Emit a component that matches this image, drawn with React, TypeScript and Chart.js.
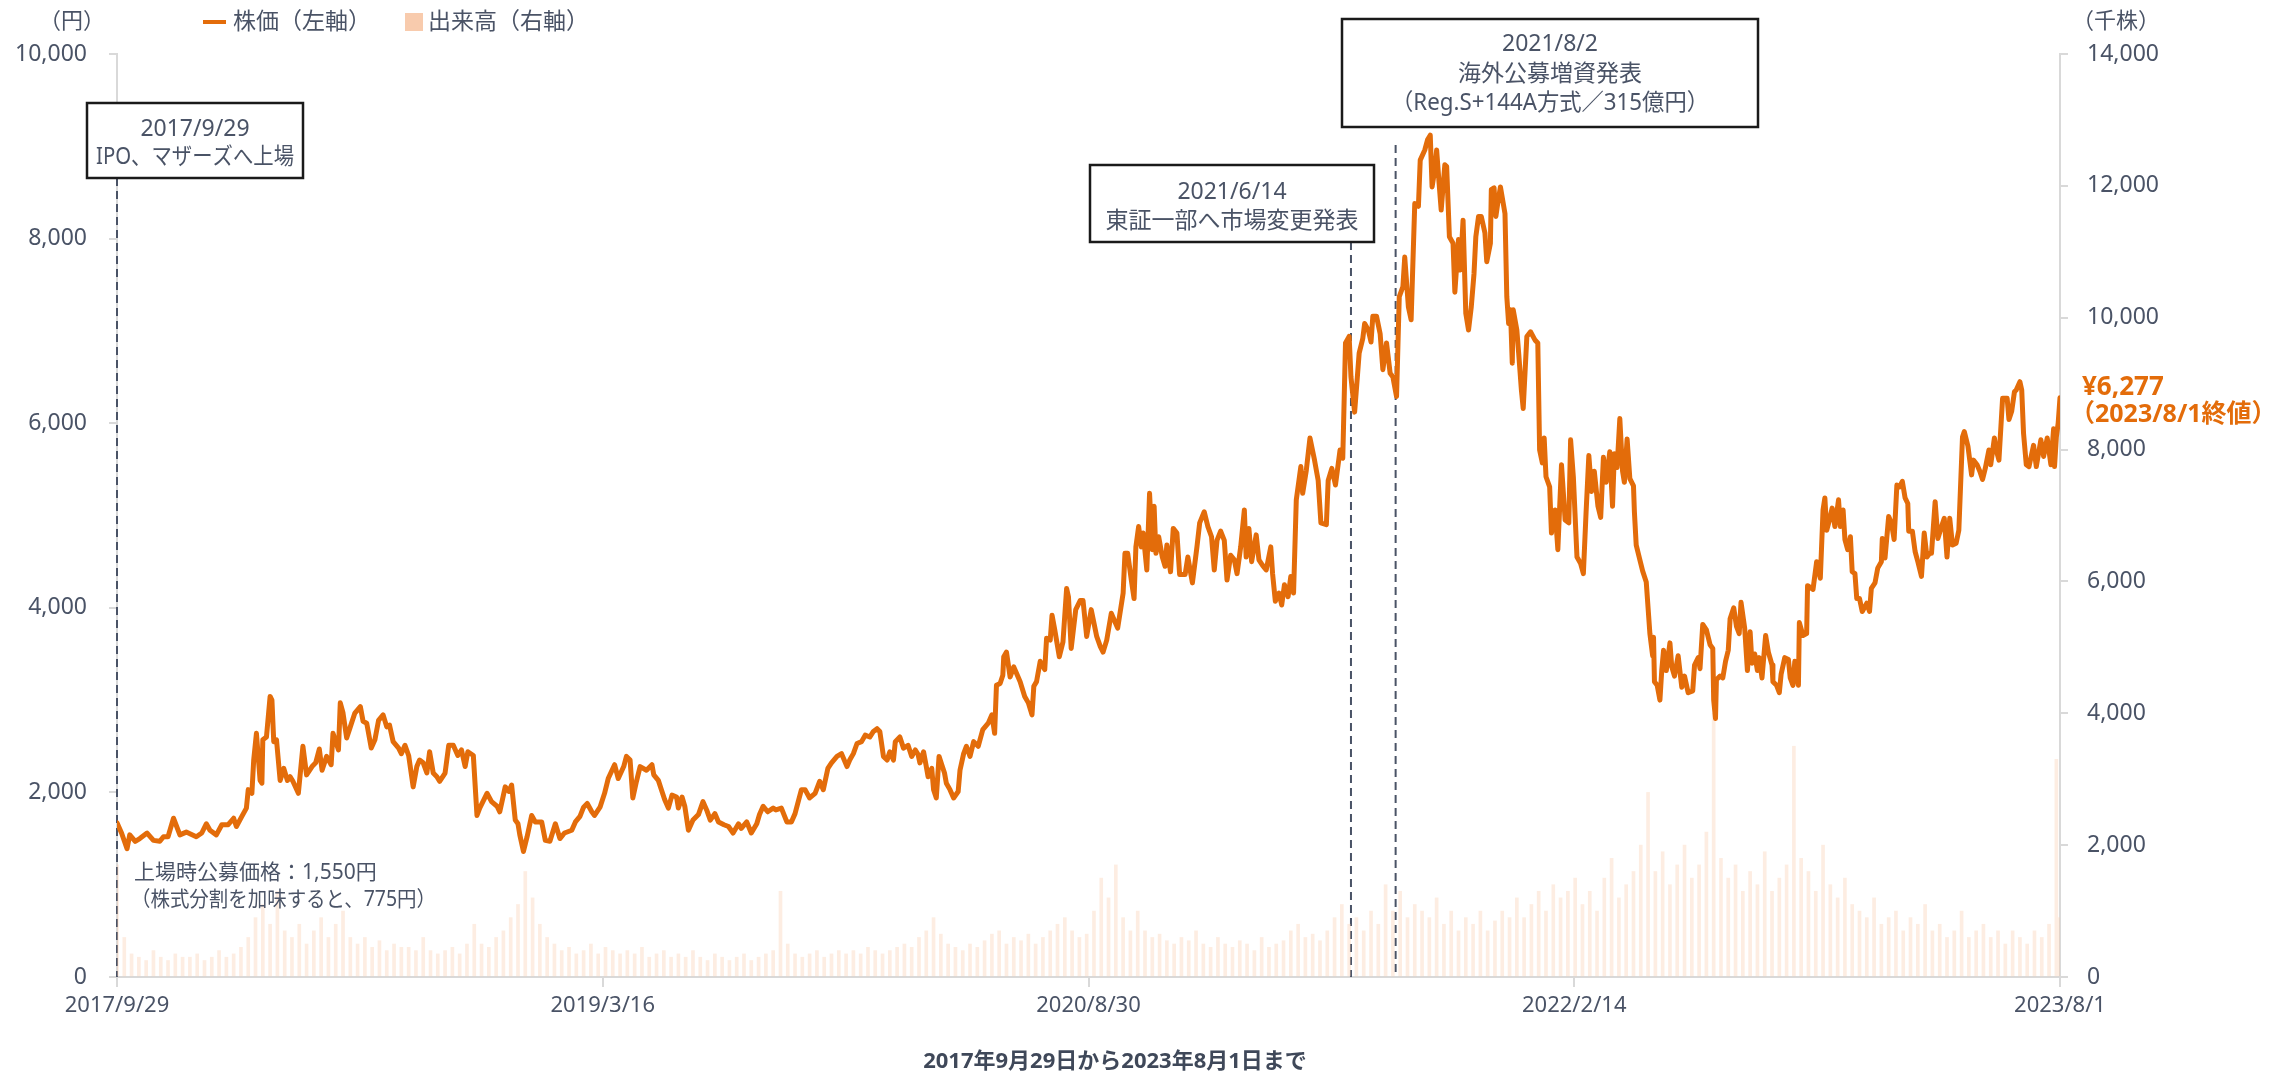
import React, { useEffect, useRef } from 'react';
import { Chart, registerables } from 'chart.js';

Chart.register(...registerables);

// x axis: days elapsed since 2017/9/29
const tickDays = [0, 533, 1066, 1599, 2132];
const tickLabels = ['2017/9/29', '2019/3/16', '2020/8/30', '2022/2/14', '2023/8/1'];

const priceDays = [
  0, 5, 11, 14, 20, 25, 33, 40, 47, 51, 56, 62, 69, 76, 87, 93, 98, 102, 109, 115, 122, 128, 131, 137, 142, 144, 148, 150, 153, 157, 159, 160, 164, 168, 170, 172, 175, 179, 183, 187, 190, 193, 199, 204, 208, 214, 218, 222, 225, 230, 235, 237, 243, 245, 248, 252, 256, 261,
  267, 270, 274, 279, 283, 287, 292, 296, 299, 303, 309, 312, 316, 320, 325, 329, 332, 336, 340, 343, 347, 351, 354, 360, 364, 369, 374, 378, 382, 385, 391, 395, 398, 406, 411, 417, 420, 426, 430, 433, 437, 440, 442, 446, 450, 455, 459, 466, 470, 475, 481, 486, 491, 499, 503, 508, 512, 516, 521, 524, 530, 535, 539, 546, 550,
  556, 559, 563, 566, 570, 574, 581, 587, 589, 594, 597, 601, 605, 609, 614, 616, 620, 623, 627, 632, 638, 643, 647, 651, 656, 660, 666, 671, 676, 682, 685, 691, 696, 702, 705, 709, 714, 720, 723, 729, 735, 740, 744, 748, 751, 755, 760, 766, 771, 775, 780, 784, 790, 795, 801, 804, 808, 812, 817,
  821, 826, 830, 834, 837, 841, 845, 848, 852, 854, 859, 863, 868, 872, 876, 879, 881, 885, 888, 890, 894, 896, 899, 902, 905, 908, 910, 914, 918, 923, 925, 929, 932, 936, 940, 945, 950, 956, 960, 963, 965, 969, 972, 973, 976, 980, 984, 987, 991, 996, 1000, 1004, 1006, 1009, 1013, 1018, 1020, 1024, 1026, 1029, 1034, 1038, 1042, 1044, 1047, 1052, 1057, 1060, 1064, 1069, 1075,
  1079, 1082, 1086, 1091, 1095, 1098, 1104, 1106, 1109, 1113, 1116, 1118, 1121, 1124, 1126, 1130, 1133, 1136, 1138, 1140, 1143, 1147, 1150, 1152, 1156, 1159, 1163, 1166, 1172, 1175, 1180, 1185, 1188, 1193, 1197, 1201, 1204, 1207, 1211, 1215, 1218, 1222, 1226, 1229, 1233, 1237, 1239, 1242, 1245, 1250, 1253, 1257, 1261, 1266, 1268, 1271, 1275, 1278, 1281, 1285, 1288, 1291, 1294, 1299, 1301, 1305, 1309, 1314, 1318, 1321, 1327, 1329, 1333, 1337, 1342, 1345,
  1348, 1352, 1354, 1358, 1361, 1363, 1367, 1369, 1373, 1376, 1378, 1382, 1386, 1389, 1393, 1397, 1400, 1404, 1407, 1411, 1413, 1417, 1420, 1424, 1428, 1430, 1435, 1438, 1441, 1443, 1446, 1448, 1451, 1453, 1457, 1459, 1462, 1466, 1468, 1472, 1474, 1477, 1480, 1483, 1486, 1489, 1491, 1494, 1497, 1501, 1503, 1507, 1508, 1511, 1513, 1515, 1518, 1523, 1525, 1527, 1529, 1531, 1532, 1536, 1538, 1541, 1543, 1547, 1551, 1556, 1559, 1561, 1564, 1566, 1568, 1572, 1574, 1578, 1581, 1585, 1589, 1593, 1595, 1598, 1602, 1606,
  1609, 1612, 1615, 1618, 1621, 1625, 1628, 1631, 1634, 1638, 1641, 1643, 1646, 1649, 1652, 1654, 1657, 1660, 1664, 1665, 1667, 1671, 1674, 1678, 1682, 1685, 1686, 1687, 1690, 1693, 1695, 1697, 1700, 1704, 1706, 1709, 1713, 1717, 1720, 1724, 1729, 1731, 1735, 1737, 1740, 1744, 1748, 1751, 1752, 1754, 1755, 1759, 1762, 1765, 1768, 1770, 1774, 1777, 1780, 1782, 1786, 1789, 1792, 1794, 1797, 1800, 1802, 1805, 1809, 1812, 1816, 1817, 1821, 1824, 1826, 1830, 1834, 1836, 1839, 1841, 1845, 1846, 1850, 1854, 1855, 1861, 1865,
  1869, 1872, 1874, 1876, 1879, 1882, 1885, 1889, 1891, 1894, 1896, 1899, 1902, 1904, 1907, 1909, 1912, 1915, 1920, 1923, 1925, 1929, 1932, 1936, 1937, 1940, 1944, 1947, 1950, 1953, 1956, 1959, 1962, 1965, 1966, 1970, 1973, 1976, 1980, 1983, 1986, 1989, 1991, 1995, 1998, 2002, 2005, 2008, 2011, 2014, 2018, 2021, 2025, 2027, 2031, 2035, 2037, 2041, 2044, 2047, 2050, 2054, 2056, 2060, 2062, 2065, 2069, 2074, 2076, 2079, 2082, 2084, 2088, 2090, 2092, 2095, 2098, 2103, 2106, 2111, 2114, 2118, 2122, 2125, 2126, 2128, 2130, 2132,
];

const priceValues = [
  1670, 1560, 1390, 1540, 1470, 1500, 1560, 1480, 1470, 1520, 1520, 1720, 1540, 1570, 1520, 1560, 1660, 1590, 1540, 1650, 1650, 1720, 1630, 1740, 1830, 2030, 1990, 2350, 2640, 2130, 2100, 2570, 2600, 3040, 3000, 2550, 2570, 2130, 2260, 2130, 2170, 2120, 1990, 2500, 2190, 2280, 2320, 2470, 2240, 2390, 2300, 2640, 2460, 2970, 2860, 2590, 2710, 2860,
  2930, 2770, 2750, 2480, 2570, 2780, 2840, 2710, 2730, 2550, 2480, 2420, 2510, 2400, 2060, 2280, 2350, 2320, 2210, 2440, 2210, 2170, 2120, 2210, 2510, 2510, 2400, 2460, 2280, 2440, 2400, 1750, 1830, 1990, 1900, 1850, 1790, 2060, 2010, 2080, 1700, 1660, 1540, 1360, 1520, 1750, 1680, 1680, 1480, 1470, 1660, 1500, 1560, 1590, 1680, 1740, 1840, 1880, 1790, 1750, 1840, 1990, 2150, 2300, 2150,
  2280, 2390, 2350, 1940, 2120, 2280, 2240, 2300, 2190, 2130, 2040, 1920, 1830, 1970, 1950, 1830, 1950, 1850, 1590, 1700, 1760, 1900, 1810, 1700, 1770, 1680, 1650, 1630, 1560, 1660, 1610, 1680, 1560, 1660, 1760, 1850, 1790, 1830, 1810, 1830, 1680, 1680, 1770, 1920, 2030, 2030, 1940, 1990, 2120, 2030, 2260, 2320, 2390, 2420, 2280, 2350, 2420, 2530, 2550,
  2620, 2600, 2660, 2690, 2660, 2390, 2350, 2440, 2350, 2550, 2600, 2480, 2510, 2390, 2460, 2410, 2320, 2440, 2280, 2170, 2260, 2030, 1940, 2390, 2300, 2210, 2100, 2030, 1940, 2010, 2240, 2420, 2500, 2390, 2550, 2500, 2680, 2750, 2840, 2640, 3160, 3180, 3270, 3470, 3520, 3250, 3360, 3290, 3200, 3040, 2970, 2840, 3150, 3200, 3420, 3330, 3670, 3650, 3920, 3760, 3470, 3630, 4210, 4120, 3560, 3980, 4080, 4080, 3690, 3980, 3690,
  3580, 3520, 3650, 3940, 3850, 3780, 4160, 4590, 4590, 4300, 4100, 4660, 4880, 4660, 4810, 4410, 5240, 4630, 5100, 4590, 4770, 4550, 4450, 4680, 4390, 4860, 4810, 4360, 4360, 4550, 4270, 4660, 4920, 5040, 4880, 4770, 4410, 4730, 4830, 4730, 4300, 4570, 4520, 4370, 4660, 5060, 4550, 4860, 4500, 4790, 4520, 4460, 4410, 4660, 4370, 4070, 4160, 4030, 4250, 4120, 4340, 4160, 5170, 5530, 5240, 5490, 5840, 5600, 5380, 4920, 4900, 5380, 5510, 5330, 5710, 5620,
  6870, 6940, 6500, 6120, 6500, 6760, 6920, 7080, 7010, 6880, 7160, 7160, 6970, 6580, 6870, 6540, 6500, 6290, 7370, 7480, 7800, 7260, 7120, 8380, 8350, 8850, 8960, 9070, 9120, 8560, 8750, 8960, 8560, 8310, 8800, 8780, 8020, 7950, 7420, 7990, 7660, 8200, 7190, 7010, 7260, 7620, 8020, 8240, 8240, 8060, 7750, 7950, 8530, 8550, 8240, 8380, 8560, 8270, 7370, 7080, 7230, 6650, 7230, 7010, 6760, 6360, 6160, 6940, 6990, 6900, 6870, 5710, 5570, 5840, 5420, 5310, 4810, 5060, 4630, 5550, 4950, 4920, 5820, 5420, 4550, 4480,
  4370, 5040, 5650, 5260, 5480, 5100, 4980, 5630, 5360, 5690, 5100, 5670, 5520, 6050, 5480, 5360, 5830, 5400, 5320, 5040, 4680, 4520, 4400, 4280, 3720, 3480, 3680, 3200, 3160, 3000, 3320, 3540, 3320, 3620, 3360, 3260, 3480, 3140, 3260, 3080, 3100, 3380, 3460, 3340, 3820, 3760, 3600, 3560, 3000, 2800, 3220, 3260, 3240, 3420, 3540, 3880, 4000, 3800, 3720, 4060, 3780, 3320, 3740, 3400, 3500, 3320, 3460, 3240, 3700, 3520, 3380, 3200, 3160, 3080, 3280, 3460, 3440, 3240, 3160, 3420, 3160, 3840, 3700, 3720, 4240, 4200, 4500,
  4320, 5060, 5190, 4840, 4950, 5080, 4880, 5170, 4880, 5060, 4740, 4630, 4770, 4390, 4370, 4100, 4100, 3960, 4050, 3960, 4210, 4270, 4430, 4500, 4750, 4540, 4990, 4920, 4740, 5330, 5310, 5370, 5190, 5130, 4830, 4830, 4610, 4500, 4340, 4810, 4550, 4590, 4590, 5150, 4750, 4880, 4970, 4550, 4970, 4680, 4700, 4840, 5850, 5910, 5750, 5440, 5600, 5550, 5480, 5390, 5510, 5710, 5550, 5840, 5710, 5600, 6270, 6270, 6040, 6130, 6340, 6360, 6450, 6360, 5890, 5550, 5530, 5760, 5530, 5820, 5640, 5840, 5550, 5940, 5530, 5850, 6000, 6277,
];

// volume (thousand shares), sampled every 8 days from 2017/9/29
const volumeStart = 0;
const volumeStep = 8;
const volumeValues = [
  1700, 600, 350, 300, 250, 400, 300, 250, 350, 300,
  300, 350, 250, 300, 400, 300, 350, 450, 600, 900,
  1100, 800, 1300, 700, 600, 800, 500, 700, 900, 600,
  800, 1000, 600, 500, 600, 450, 550, 400, 500, 450,
  450, 400, 600, 400, 350, 400, 450, 350, 500, 800,
  500, 450, 600, 700, 900, 1100, 1600, 1200, 800, 600,
  500, 400, 450, 350, 400, 500, 350, 450, 400, 350,
  400, 350, 450, 300, 350, 400, 300, 350, 300, 400,
  300, 250, 350, 300, 250, 300, 350, 250, 300, 350,
  400, 1300, 500, 350, 300, 350, 400, 300, 350, 400,
  350, 400, 350, 450, 400, 350, 400, 450, 500, 450,
  600, 700, 900, 650, 500, 450, 400, 500, 450, 550,
  650, 700, 500, 600, 550, 650, 500, 600, 700, 800,
  900, 700, 600, 650, 1000, 1500, 1200, 1700, 900, 700,
  1000, 700, 600, 650, 550, 500, 600, 550, 700, 500,
  450, 600, 500, 450, 550, 500, 400, 600, 450, 500,
  550, 700, 800, 600, 650, 550, 700, 900, 1100, 800,
  900, 700, 1000, 800, 1400, 1000, 1300, 900, 1100, 1000,
  900, 1200, 800, 1000, 700, 900, 800, 1000, 700, 850,
  1000, 900, 1200, 900, 1100, 1300, 1000, 1400, 1200, 1300,
  1500, 1100, 1300, 1000, 1500, 1800, 1200, 1400, 1600, 2000,
  2800, 1600, 1900, 1400, 1700, 2000, 1500, 1700, 2200, 4000,
  1800, 1500, 1700, 1300, 1600, 1400, 1900, 1300, 1500, 1700,
  3500, 1800, 1600, 1300, 2000, 1400, 1200, 1500, 1100, 1000,
  900, 1200, 800, 900, 1000, 700, 900, 800, 1100, 700,
  800, 600, 700, 1000, 600, 700, 800, 600, 700, 500,
  700, 600, 500, 700, 600, 800, 3300,
];
const volumeLastDay = 2132;
const volumeLastValue = 900;

const eventDays = [0, 1354, 1403];
const eventLineTops = [178, 242, 145];

const TEXT = '#4a5366';
const ORANGE = '#e36c0a';
const FONT = "'Noto Sans', 'Noto Sans CJK JP', sans-serif";

const overlay = {
  id: 'overlay',
  beforeDatasetsDraw(chart: any) {
    const { ctx, chartArea } = chart;
    const xs = chart.scales.x;
    ctx.save();
    ctx.setLineDash([8, 5]);
    ctx.strokeStyle = TEXT;
    ctx.lineWidth = 2;
    eventDays.forEach((d, i) => {
      const px = xs.getPixelForValue(d);
      ctx.beginPath();
      ctx.moveTo(px, eventLineTops[i]);
      ctx.lineTo(px, chartArea.bottom);
      ctx.stroke();
    });
    ctx.restore();
  },
  afterDraw(chart: any) {
    const { ctx } = chart;
    ctx.save();
    ctx.textBaseline = 'middle';
    ctx.fillStyle = TEXT;
    ctx.font = `22px ${FONT}`;
    ctx.textAlign = 'center';
    ctx.fillText('（円）', 72, 22);
    ctx.fillText('（千株）', 2116, 22);
    ctx.strokeStyle = ORANGE;
    ctx.lineWidth = 4;
    ctx.beginPath();
    ctx.moveTo(203, 22);
    ctx.lineTo(226, 22);
    ctx.stroke();
    ctx.textAlign = 'left';
    ctx.font = `23px ${FONT}`;
    ctx.fillText('株価（左軸）', 233, 22);
    ctx.fillStyle = '#f8cbad';
    ctx.fillRect(405, 13, 18, 18);
    ctx.fillStyle = TEXT;
    ctx.fillText('出来高（右軸）', 428, 22);

    const boxes = [
      { x: 87, y: 103, w: 216, h: 75, lines: ['2017/9/29', 'IPO、マザーズへ上場'], ys: [129, 157], widths: [0, 198] },
      { x: 1090, y: 165, w: 284, h: 77, lines: ['2021/6/14', '東証一部へ市場変更発表'], ys: [192, 221], widths: [0, 258] },
      { x: 1342, y: 19, w: 416, h: 108, lines: ['2021/8/2', '海外公募増資発表', '（Reg.S+144A方式／315億円）'], ys: [44, 74, 103], widths: [0, 0, 318] },
    ];
    boxes.forEach((b) => {
      ctx.fillStyle = '#ffffff';
      ctx.fillRect(b.x, b.y, b.w, b.h);
      ctx.strokeStyle = '#1a1a1a';
      ctx.lineWidth = 2.5;
      ctx.strokeRect(b.x, b.y, b.w, b.h);
      ctx.fillStyle = TEXT;
      ctx.font = `23px ${FONT}`;
      ctx.textAlign = 'center';
      b.lines.forEach((t, i) => {
        if (b.widths[i]) ctx.fillText(t, b.x + b.w / 2, b.ys[i], b.widths[i]);
        else ctx.fillText(t, b.x + b.w / 2, b.ys[i]);
      });
    });

    ctx.textAlign = 'left';
    ctx.font = `21px ${FONT}`;
    ctx.fillStyle = TEXT;
    ctx.fillText('上場時公募価格：1,550円', 134, 873);
    ctx.fillText('（株式分割を加味すると、775円）', 131, 900, 305);

    ctx.fillStyle = ORANGE;
    ctx.font = `bold 26px ${FONT}`;
    ctx.fillText('¥6,277', 2082, 388);
    ctx.font = `bold 25px ${FONT}`;
    ctx.fillText('（2023/8/1終値）', 2070, 415);

    ctx.fillStyle = '#3f4859';
    ctx.font = `bold 22px ${FONT}`;
    ctx.textAlign = 'center';
    ctx.fillText('2017年9月29日から2023年8月1日まで', 1115, 1062);
    ctx.restore();
  },
};

export default function App() {
  const ref = useRef<HTMLCanvasElement | null>(null);
  useEffect(() => {
    if (!ref.current) return;
    const volumeData = volumeValues.map((v, i) => ({ x: volumeStart + i * volumeStep, y: v }));
    volumeData.push({ x: volumeLastDay, y: volumeLastValue });
    const chart = new Chart(ref.current, {
      type: 'line',
      data: {
        datasets: [
          {
            type: 'line',
            label: '株価（左軸）',
            data: priceDays.map((d, i) => ({ x: d, y: priceValues[i] })),
            borderColor: ORANGE,
            borderWidth: 5,
            pointRadius: 0,
            tension: 0,
            borderJoinStyle: 'round',
            borderCapStyle: 'round',
            yAxisID: 'y',
            order: 0,
          },
          {
            type: 'bar',
            label: '出来高（右軸）',
            data: volumeData,
            backgroundColor: 'rgba(248, 203, 173, 0.35)',
            barThickness: 3,
            yAxisID: 'y2',
            order: 1,
          },
        ] as any,
      },
      options: {
        animation: false,
        responsive: false,
        devicePixelRatio: 1,
        locale: 'en-US',
        layout: { padding: { top: 54, left: 0, right: 0, bottom: 0 } },
        plugins: { legend: { display: false }, tooltip: { enabled: false }, title: { display: false } },
        scales: {
          x: {
            type: 'linear',
            min: 0,
            max: 2132,
            offset: false,
            afterBuildTicks: (s: any) => {
              s.ticks = tickDays.map((v) => ({ value: v }));
            },
            afterFit: (s: any) => {
              s.height = 99;
            },
            ticks: {
              autoSkip: false,
              maxRotation: 0,
              padding: 6,
              color: TEXT,
              font: { family: FONT, size: 22 },
              callback: (v: any) => {
                const i = tickDays.indexOf(Number(v));
                return i >= 0 ? tickLabels[i] : '';
              },
            },
            grid: { display: true, offset: false, drawOnChartArea: false, drawTicks: true, tickLength: 10, color: '#d9d9d9', lineWidth: 2 },
            border: { display: true, color: '#d9d9d9', width: 2 },
          },
          y: {
            type: 'linear',
            position: 'left',
            min: 0,
            max: 10000,
            afterFit: (s: any) => {
              s.width = 117;
            },
            ticks: { stepSize: 2000, padding: 22, color: TEXT, font: { family: FONT, size: 23 } },
            grid: { display: true, drawOnChartArea: false, drawTicks: true, tickLength: 8, color: '#d9d9d9', lineWidth: 2 },
            border: { display: true, color: '#d9d9d9', width: 2 },
          },
          y2: {
            type: 'linear',
            position: 'right',
            min: 0,
            max: 14000,
            afterFit: (s: any) => {
              s.width = 222;
            },
            ticks: { stepSize: 2000, padding: 19, color: TEXT, font: { family: FONT, size: 23 } },
            grid: { display: true, drawOnChartArea: false, drawTicks: true, tickLength: 8, color: '#d9d9d9', lineWidth: 2 },
            border: { display: true, color: '#d9d9d9', width: 2 },
          },
        },
      } as any,
      plugins: [overlay],
    });
    return () => chart.destroy();
  }, []);
  return (
    <div style={{ position: 'absolute', left: 0, top: 0, width: 2282, height: 1076, background: '#ffffff' }}>
      <canvas ref={ref} width={2282} height={1076} style={{ display: 'block', width: 2282, height: 1076 }} />
    </div>
  );
}
